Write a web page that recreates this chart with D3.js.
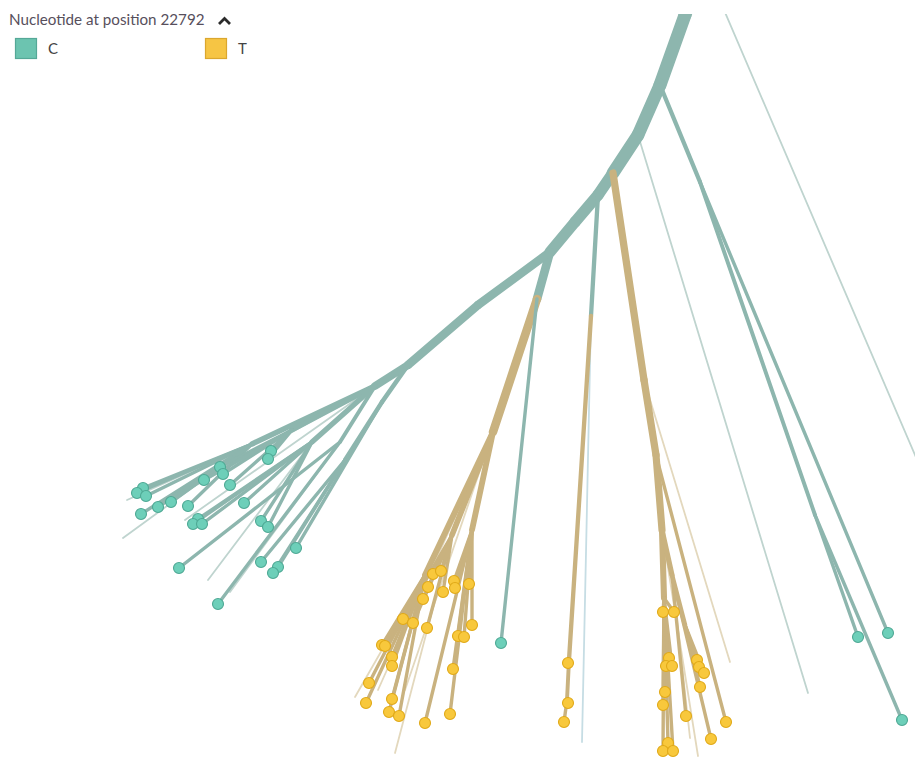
<!DOCTYPE html>
<html>
<head>
<meta charset="utf-8">
<script src="https://cdn.jsdelivr.net/npm/d3@7"></script>
<style>
  html, body { margin: 0; padding: 0; background: #fff; }
  svg { display: block; font-family: Lato, "Open Sans", sans-serif; }
</style>
</head>
<body>
<svg id="chart" width="915" height="760"></svg>
<script>
// ---------- DATA (layout units of the unrooted tree) ----------
const legendTitle = "Nucleotide at position 22792";
const states = ["C", "T"];

// [id, parent, x, y, state]
const trunkNodes = [
  ["root", null, 697, -20, "C"],
  ["r2", "root", 724, 10, "C"],
  ["n0", "root", 685, 15, "C"],
  ["n1", "n0", 660, 85, "C"],
  ["n1b", "n1", 638, 135, "C"],
  ["n2", "n1b", 613, 173, "C"],
  ["n3", "n2", 598, 195, "C"],
  ["n3b", "n3", 575, 222, "C"],
  ["n4", "n3b", 550, 252, "C"],
  ["n4b", "n4", 478, 305, "C"],
  ["n5", "n4b", 408, 365, "C"],
  ["n6", "n5", 375, 386, "C"]
];
const rightClade = [
  ["rc", "n1", 700, 182, "C"],
  ["rc1", "rc", 815, 515, "C"],
  ["tR1", "rc1", 858, 637, "C"],
  ["tR2", "rc1", 902, 720, "C"],
  ["tR3", "rc", 888, 633, "C"]
];
const middleClade = [
  ["c1", "n3", 591, 316, "C"],
  ["t1", "c1", 569, 660, "T"],
  ["tM1", "t1", 568, 663, "T"],
  ["t2", "t1", 567, 700, "T"],
  ["tM2", "t2", 568, 703, "T"],
  ["tM3", "t2", 564, 722, "T"]
];
const rightTClade = [
  ["tA", "n2", 644, 380, "T"],
  ["tB", "tA", 656, 455, "T"],
  ["tC", "tB", 662, 530, "T"],
  ["g1", "tC", 664, 598, "T"],
  ["g1a", "g1", 663, 612, "T"], ["g1b", "g1", 674, 612, "T"], ["g1c", "g1", 669, 658, "T"],
  ["g1d", "g1", 666, 666, "T"], ["g1e", "g1", 672, 666, "T"], ["g1f", "g1", 665, 692, "T"],
  ["g1g", "g1", 663, 705, "T"], ["g1h", "g1", 668, 743, "T"], ["g1i", "g1", 663, 751, "T"],
  ["g1j", "g1", 673, 751, "T"],
  ["g2", "tC", 672, 575, "T"],
  ["g2a", "g2", 686, 716, "T"], ["g2b", "g2", 711, 739, "T"],
  ["g3", "g2", 685, 625, "T"],
  ["g3a", "g3", 697, 660, "T"], ["g3b", "g3", 699, 667, "T"], ["g3c", "g3", 704, 673, "T"],
  ["g3d", "g3", 700, 687, "T"],
  ["gB", "tB", 726, 722, "T"]
];
const leftTClade = [
  ["c2", "n4", 537, 299, "C"],
  ["tL0", "c2", 501, 643, "C"],
  ["tL", "c2", 493, 432, "T"],
  ["sA", "tL", 425, 575, "T"],
  ["sA1", "sA", 382, 645, "T"], ["sA2", "sA", 385, 646, "T"], ["sA3", "sA", 392, 657, "T"],
  ["sA4", "sA", 392, 666, "T"], ["sA5", "sA", 369, 683, "T"], ["sA6", "sA", 366, 703, "T"],
  ["sA7", "sA", 392, 699, "T"], ["sA8", "sA", 389, 712, "T"], ["sA9", "sA", 399, 716, "T"],
  ["sB", "tL", 452, 535, "T"],
  ["sB1", "sB", 433, 574, "T"], ["sB2", "sB", 441, 571, "T"], ["sB3", "sB", 428, 587, "T"],
  ["sB4", "sB", 443, 592, "T"], ["sB5", "sB", 423, 599, "T"], ["sB6", "sB", 403, 619, "T"],
  ["sB7", "sB", 413, 623, "T"], ["sB8", "sB", 427, 628, "T"],
  ["sC", "tL", 472, 530, "T"],
  ["sC1", "sC", 454, 581, "T"], ["sC2", "sC", 455, 588, "T"], ["sC3", "sC", 469, 584, "T"],
  ["sC4", "sC", 472, 625, "T"], ["sC5", "sC", 458, 636, "T"], ["sC6", "sC", 464, 637, "T"],
  ["sC7", "sC", 453, 669, "T"], ["sC8", "sC", 450, 714, "T"], ["sC9", "sC", 425, 723, "T"]
];
const leftCClade = [
  ["w1", "n5", 382, 402, "C"],
  ["w1a", "w1", 296, 548, "C"],
  ["w2", "w1", 345, 460, "C"],
  ["w2a", "w2", 278, 567, "C"], ["w2b", "w2", 273, 573, "C"], ["w2c", "w2", 261, 562, "C"],
  ["u1", "n6", 252, 444, "C"],
  ["u1a", "u1", 143, 488, "C"], ["u1b", "u1", 137, 493, "C"], ["u1c", "u1", 146, 496, "C"],
  ["u1d", "u1", 141, 514, "C"], ["u1e", "u1", 158, 507, "C"], ["u1f", "u1", 171, 502, "C"],
  ["u1g", "u1", 188, 506, "C"],
  ["u2", "n6", 292, 430, "C"],
  ["u2a", "u2", 271, 451, "C"], ["u2b", "u2", 268, 459, "C"], ["u2c", "u2", 220, 467, "C"],
  ["u2d", "u2", 223, 474, "C"], ["u2e", "u2", 204, 480, "C"], ["u2f", "u2", 230, 485, "C"],
  ["u3", "n6", 312, 442, "C"],
  ["u3a", "u3", 244, 503, "C"], ["u3b", "u3", 198, 519, "C"], ["u3c", "u3", 193, 524, "C"],
  ["u3d", "u3", 202, 524, "C"], ["u3e", "u3", 261, 521, "C"], ["u3f", "u3", 268, 527, "C"],
  ["u4", "n6", 340, 442, "C"],
  ["u4a", "u4", 218, 604, "C"], ["u4b", "u4", 179, 568, "C"]
];
// faint thin branches: [parent, x, y, tone]
const faintBranches = [
  ["r2", 930, 490, "c"],
  ["n1b", 808, 693, "c"],
  ["c1", 582, 742, "b"],
  ["tA", 730, 662, "t"],
  ["tC", 698, 756, "t"],
  ["g2", 690, 738, "t"],
  ["sA", 355, 697, "t"],
  ["sB", 395, 753, "t"],
  ["tL", 378, 690, "t"],
  ["tL", 405, 690, "t"],
  ["u1", 123, 538, "c"],
  ["u1", 127, 500, "c"],
  ["n6", 160, 505, "c"],
  ["n6", 185, 520, "c"],
  ["u3", 208, 580, "c"],
  ["u4", 230, 592, "c"]
];

// ---------- BUILD ----------
const svg = d3.select("#chart");
const W = 915, H = 760;
const x = d3.scaleLinear().domain([0, 915]).range([0, W]);
const y = d3.scaleLinear().domain([0, 760]).range([0, H]);

const branchColor = d3.scaleOrdinal().domain(states).range(["#8db6ae", "#c9b27f"]);
const tipFill = d3.scaleOrdinal().domain(states).range(["#6dcfb9", "#f8c83c"]);
const tipStroke = d3.scaleOrdinal().domain(states).range(["#4ea894", "#e0a918"]);
const faintColor = { c: "#bfd4cf", t: "#e3d8bd", b: "#c6dde4" };

const rows = [].concat(trunkNodes, rightClade, middleClade, rightTClade, leftTClade, leftCClade);
const nodes = rows.map(r => ({ id: r[0], parent: r[1], x: r[2], y: r[3], state: r[4], children: [] }));
const byId = new Map(nodes.map(n => [n.id, n]));
nodes.forEach(n => { if (n.parent) byId.get(n.parent).children.push(n); });
const faintParents = new Set(faintBranches.map(f => f[0]));
nodes.forEach(n => { n.isTip = n.children.length === 0 && !faintParents.has(n.id); });

function countTips(n) {
  n.nTips = n.isTip ? 1 : d3.sum(n.children, countTips);
  return n.nTips;
}
countTips(byId.get("root"));
const total = byId.get("root").nTips;
const widthScale = d3.scaleSqrt().domain([1, total]).range([3.4, 13]);

svg.append("defs").append("clipPath").attr("id", "treeclip")
  .append("rect").attr("x", 0).attr("y", 14).attr("width", W).attr("height", H - 14);

const g = svg.append("g").attr("clip-path", "url(#treeclip)");

// faint branches
g.append("g").selectAll("line").data(faintBranches).join("line")
  .attr("x1", d => x(byId.get(d[0]).x)).attr("y1", d => y(byId.get(d[0]).y))
  .attr("x2", d => x(d[1])).attr("y2", d => y(d[2]))
  .attr("stroke", d => faintColor[d[3]])
  .attr("stroke-width", 1.8)
  .attr("stroke-linecap", "round");

// branches
const edges = nodes.filter(n => n.parent).map(n => ({ child: n, par: byId.get(n.parent) }))
  .sort((a, b) => b.child.nTips - a.child.nTips);
g.append("g").selectAll("line").data(edges).join("line")
  .attr("x1", d => x(d.par.x)).attr("y1", d => y(d.par.y))
  .attr("x2", d => x(d.child.x)).attr("y2", d => y(d.child.y))
  .attr("stroke", d => branchColor(d.child.state))
  .attr("stroke-width", d => widthScale(d.child.nTips))
  .attr("stroke-linecap", "round");

// tips
g.append("g").selectAll("circle").data(nodes.filter(n => n.isTip)).join("circle")
  .attr("cx", d => x(d.x)).attr("cy", d => y(d.y))
  .attr("r", 5.5)
  .attr("fill", d => tipFill(d.state))
  .attr("stroke", d => tipStroke(d.state))
  .attr("stroke-width", 1.1);

// ---------- LEGEND ----------
const leg = svg.append("g");
leg.append("text").attr("x", 9).attr("y", 25)
  .attr("font-size", 15.2).attr("fill", "#574f5c").text(legendTitle);
leg.append("path").attr("d", "M219,24 L224.5,18.5 L230,24")
  .attr("fill", "none").attr("stroke", "#2b2b2b").attr("stroke-width", 2.8);
const legX = d3.scaleOrdinal().domain(states).range([15, 205]);
const items = leg.selectAll("g.item").data(states).join("g").attr("class", "item")
  .attr("transform", d => `translate(${legX(d)},38)`);
items.append("rect").attr("x", 0.5).attr("y", 0.5).attr("width", 21).attr("height", 20)
  .attr("fill", d => d === "C" ? "#6cc4b0" : "#f6c544")
  .attr("stroke", d => d === "C" ? "#55a897" : "#dba72e").attr("stroke-width", 1.2);
items.append("text").attr("x", 33).attr("y", 15.5)
  .attr("font-size", 15).attr("fill", "#444").text(d => d);
</script>
</body>
</html>
